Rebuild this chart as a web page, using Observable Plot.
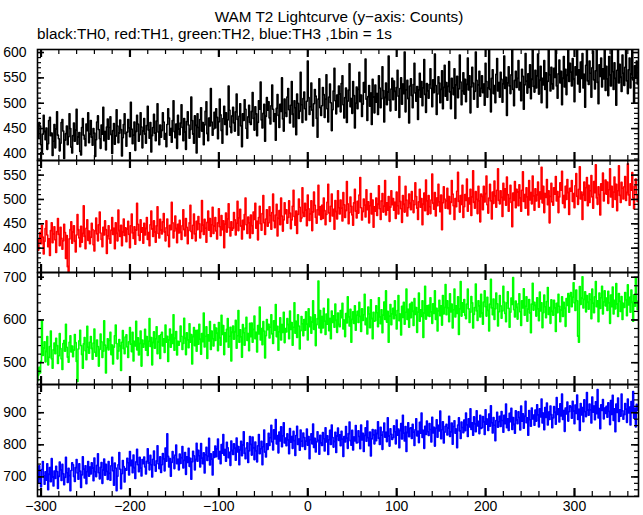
<!DOCTYPE html>
<html><head><meta charset="utf-8">
<script src="https://cdn.jsdelivr.net/npm/d3@7"></script>
<script src="https://cdn.jsdelivr.net/npm/@observablehq/plot@0.6"></script>
<style>
html,body{margin:0;padding:0;background:#fff;}
#chart{position:relative;width:643px;height:515px;font-family:"Liberation Sans",Arial,sans-serif;color:#000;overflow:hidden;}
.title{position:absolute;left:39px;width:600px;text-align:center;top:9px;font-size:15.3px;line-height:15px;white-space:nowrap;}
.sub{position:absolute;left:37px;top:26px;font-size:15.3px;line-height:15px;white-space:nowrap;}
</style></head>
<body>
<div id="chart">
<div class="title">WAM T2 Lightcurve (y−axis: Counts)</div>
<div class="sub">black:TH0, red:TH1, green:TH2, blue:TH3 ,1bin = 1s</div>
</div>
<script>
// time of first 1-s bin (s); one value per bin
const binStart = -304;

const th0 = [
447,431,462,455,418,403,439,476,444,428,451,409,420,466,472,436,441,397,425,458,
412,449,483,437,430,406,421,462,468,445,391,427,440,455,418,434,479,450,413,402,
436,461,425,447,488,419,433,442,405,398,452,470,437,429,416,459,446,481,422,439,
466,433,417,450,441,395,428,463,475,448,430,411,457,439,492,426,444,408,453,469,
429,452,473,438,401,446,460,419,435,487,455,422,441,467,448,396,432,458,479,440,
415,443,468,451,434,502,449,420,437,463,407,444,476,459,425,438,481,453,412,445,
470,439,421,456,494,447,431,462,404,436,452,478,441,426,465,499,443,418,457,433,
446,481,463,429,440,414,458,489,471,437,450,423,466,505,444,432,459,411,476,449,
438,461,497,452,426,470,443,409,464,483,457,431,448,512,466,439,421,475,456,402,
479,452,433,468,491,445,462,418,457,484,503,440,426,471,455,529,463,437,449,482,
451,489,472,430,463,508,477,446,421,470,494,458,481,438,467,534,486,453,442,475,
492,461,445,483,518,468,437,474,499,455,414,479,466,507,488,450,431,473,496,462,
458,484,521,470,447,493,479,436,462,505,488,542,467,451,480,498,425,474,511,486,
503,471,459,495,536,488,464,479,427,490,517,476,452,498,484,550,469,445,508,481,
474,512,529,487,461,496,543,478,453,505,491,438,518,500,470,484,561,497,462,509,
522,489,467,504,583,511,478,493,540,486,455,499,527,514,470,433,508,548,491,476,
495,531,517,472,508,556,489,463,512,538,501,446,487,524,569,505,479,516,493,534,
518,483,539,554,497,471,511,530,462,504,526,578,493,509,480,543,515,451,500,532,
489,527,561,503,516,474,498,541,522,587,508,466,513,535,494,520,458,547,512,481,
536,502,519,478,554,530,491,509,572,525,463,511,540,497,522,593,506,485,528,549,
507,544,523,486,531,565,514,472,529,550,498,538,519,601,483,526,545,509,461,534,
548,515,491,537,579,520,504,533,468,526,559,512,543,495,530,586,517,482,539,524,
510,537,568,529,493,546,521,597,535,478,518,552,540,501,527,564,489,531,575,514,
541,506,533,582,522,489,549,530,517,568,470,536,553,511,528,595,542,497,524,560,
518,547,503,537,589,526,554,481,532,571,540,508,523,601,545,492,536,563,514,529,
554,521,538,496,579,543,512,530,605,527,483,549,566,519,535,501,557,588,524,541,
512,561,547,502,538,593,529,551,476,540,572,534,519,556,608,527,495,545,563,531,
549,584,526,541,505,567,553,488,536,598,544,520,558,531,576,509,547,612,533,522,
565,530,554,597,518,545,573,501,549,536,584,527,560,491,543,609,556,524,571,538,
528,569,551,606,534,510,558,585,540,563,497,549,592,532,567,517,555,614,543,579,
561,534,588,547,503,572,556,615,538,566,522,581,549,598,530,557,492,575,609,544,
537,583,559,512,570,603,546,528,564,611,541,499,576,553,589,532,568,548,620,525,
573,548,515,592,556,534,607,562,527,580,549,496,565,613,540,577,551,523,595,559,
535,571,604,544,519,566,589,530,557,612,546,501,574,550,583,538
];

const th1 = [
401,396,418,432,409,447,423,388,414,440,456,427,403,419,385,436,452,411,429,444,
417,391,434,461,428,405,443,420,398,415,449,432,379,426,362,351,419,438,454,410,
433,446,414,392,427,469,438,421,403,445,412,430,487,424,399,441,458,416,435,409,
422,451,438,407,394,436,462,429,415,448,474,431,418,403,443,427,456,438,389,425,
446,419,410,437,463,428,441,399,452,430,415,478,436,424,447,405,433,460,426,442,
413,439,455,428,401,446,470,431,420,444,408,437,492,449,426,416,458,433,442,410,
451,427,440,463,418,432,405,448,476,439,424,456,433,412,446,485,430,421,459,437,
429,454,471,433,415,442,460,426,403,447,438,494,452,421,435,466,440,411,449,431,
457,432,418,446,479,438,425,461,443,409,436,452,488,434,420,447,470,429,415,455,
438,465,450,421,434,498,447,428,459,441,412,453,476,437,461,424,448,484,430,445,
463,435,419,452,481,444,426,467,438,456,401,449,472,433,460,491,442,425,454,437,
441,473,458,427,451,496,436,462,480,445,419,457,438,469,503,448,430,464,452,421,
468,446,430,474,459,492,441,455,417,463,486,450,437,471,508,452,428,460,479,445,
452,485,467,439,473,511,456,442,468,490,425,461,477,448,503,466,435,458,493,471,
479,451,463,497,472,440,458,486,519,465,447,476,430,469,501,484,455,462,524,473,
465,492,478,446,509,481,457,470,497,436,474,515,488,463,451,479,529,468,485,459,
488,461,503,477,448,469,494,531,472,455,486,511,466,480,439,498,475,460,518,483,
470,499,482,456,514,489,463,477,537,491,450,473,505,486,468,447,493,521,476,462,
496,472,509,545,483,458,475,501,488,464,520,479,495,452,487,512,470,499,443,485,
476,503,467,490,528,481,459,497,512,474,486,539,468,493,478,506,455,484,518,489,
502,478,494,461,515,487,470,547,496,481,453,508,490,474,527,499,466,483,511,492,
479,516,498,473,489,534,506,482,459,495,521,484,502,448,490,513,477,540,497,469,
508,485,471,499,552,492,480,514,466,503,487,531,495,475,509,438,493,526,501,482,
497,523,481,506,470,494,539,511,487,459,502,485,517,556,496,474,508,490,529,463,
485,510,498,542,476,503,491,521,467,505,559,494,482,516,500,471,527,497,454,511,
506,479,527,495,512,548,489,472,503,531,497,460,515,492,538,507,484,519,563,498,
491,518,504,465,533,499,522,488,546,510,476,502,529,494,444,513,498,537,483,521,
515,487,530,503,476,519,557,496,510,482,524,505,468,539,499,514,491,548,507,478,
522,497,509,536,484,515,501,566,493,527,473,512,504,541,489,518,452,506,533,495,
488,524,511,547,497,516,473,505,534,519,558,492,508,483,527,500,541,514,469,523,
517,539,496,512,483,528,553,506,490,521,567,501,515,459,509,536,498,524,545,487,
529,494,518,549,505,482,537,514,571,503,490,526,510,468,532,519,554,497,512,540,
511,536,492,520,563,505,527,484,515,546,500,531,477,518,569,508,494,535,523,501,
526,547,498,514,573,509,488,532,519,555,503,481,527,542,510,496
];

const th2 = [
458,471,489,476,503,598,517,534,549,502,526,561,495,512,538,574,509,487,530,546,
521,557,540,498,516,568,533,509,484,545,552,527,590,536,513,501,548,563,525,539,
514,529,566,547,503,456,532,551,576,540,519,487,544,559,528,507,585,536,522,548,
561,533,508,546,579,524,515,553,538,492,531,567,549,512,527,598,541,476,535,556,
530,552,571,519,541,497,536,563,588,545,509,527,554,539,482,548,575,533,521,560,
565,537,512,549,582,543,526,571,504,550,539,597,530,558,518,545,574,492,553,536,
544,578,529,561,517,550,603,538,559,495,547,572,534,556,584,521,548,563,510,566,
571,539,556,524,588,548,562,503,553,579,536,566,545,612,529,557,573,518,550,541,
549,586,562,531,545,604,557,519,570,553,535,591,548,566,497,561,582,540,575,527,
576,543,590,555,520,568,549,616,537,562,584,510,565,551,596,531,574,556,539,589,
552,581,569,528,594,558,541,611,566,587,519,570,549,578,603,536,562,583,504,571,
586,555,572,599,534,563,622,548,577,560,513,589,570,541,581,606,552,568,528,592,
561,593,548,578,609,556,571,525,587,567,630,553,580,542,596,574,511,563,601,577,
590,558,583,612,567,545,598,576,636,561,585,529,572,605,553,589,571,618,547,580,
572,603,589,556,621,578,594,541,583,640,569,597,559,612,586,532,575,608,591,563,
601,576,619,590,553,626,584,607,569,595,645,578,612,540,589,603,691,581,622,570,
608,581,627,597,566,614,590,649,575,603,556,621,594,610,583,637,599,571,616,589,
584,622,605,639,579,600,561,615,593,654,607,586,625,548,601,619,592,633,576,611,
620,594,641,608,573,626,599,612,660,589,604,567,630,614,582,647,603,556,618,597,
598,633,617,584,652,607,591,624,570,611,642,601,668,595,620,548,609,636,589,614,
627,603,645,611,579,622,657,598,614,565,632,606,641,590,618,672,601,625,583,637,
605,641,620,587,650,613,629,571,618,663,597,624,608,645,559,616,679,602,633,610,
634,608,652,619,592,638,615,668,601,627,574,621,646,610,633,588,657,614,629,683,
612,645,628,596,661,619,637,581,624,672,607,633,615,654,566,626,690,609,640,618,
648,611,603,637,672,626,594,618,655,640,581,613,629,684,621,599,645,633,607,660,
616,590,642,668,631,609,653,622,574,637,695,628,612,649,601,626,663,638,586,619,
657,633,604,621,679,642,615,596,640,666,627,583,618,651,636,699,624,607,644,629,
602,638,661,619,587,645,628,673,611,632,654,597,625,648,616,570,637,686,623,641,
634,609,652,626,598,665,621,640,582,617,658,631,605,643,676,613,629,592,647,620,
611,646,628,573,639,617,660,632,596,623,654,608,641,627,585,650,634,662,618,656,
664,631,653,687,640,622,670,645,562,548,678,636,651,701,628,648,666,619,657,641,
625,661,648,603,672,639,617,654,690,631,645,596,663,627,652,679,614,642,668,633,
651,622,667,640,592,658,631,677,614,646,626,685,637,608,662,643,620,655,601,639,
629,664,647,610,682,635,653,618,670,641,597,659,632,698,644,624
];

const th3 = [
712,681,735,694,669,723,748,703,677,716,690,741,660,708,729,685,757,699,672,718,
695,733,717,664,701,746,722,689,739,710,676,698,761,713,683,727,704,657,720,744,
738,701,686,729,754,712,693,741,718,667,706,763,724,697,735,679,716,748,702,731,
709,744,727,688,759,716,701,736,772,713,694,730,745,680,721,756,705,739,717,692,
748,711,690,735,761,719,674,743,728,657,702,738,776,724,663,710,751,732,684,726,
721,758,744,706,779,735,752,713,768,729,695,747,786,738,716,761,727,703,754,741,
762,731,709,749,788,743,722,767,738,700,755,781,736,718,750,797,741,726,763,714,
738,773,756,719,790,749,834,764,731,757,702,745,779,760,726,768,799,741,755,722,
771,742,760,795,728,751,776,708,763,745,789,733,758,693,747,780,766,722,754,805,
749,783,766,731,804,758,741,775,712,769,792,751,764,820,737,772,755,706,778,761,
796,763,787,818,756,779,741,801,774,832,768,785,749,808,791,760,777,736,812,782,
770,803,789,752,821,778,795,738,784,811,766,799,841,773,757,790,806,745,781,826,
801,768,824,790,754,809,781,747,797,832,772,788,811,738,794,846,777,762,803,786,
836,798,822,861,809,784,847,818,879,803,829,775,840,812,856,794,828,869,806,821,
797,834,815,772,851,808,826,789,842,813,767,829,858,801,818,783,846,811,795,837,
823,786,811,849,799,826,757,816,834,803,865,792,820,778,809,841,814,771,830,806,
798,838,819,781,853,809,828,770,816,845,801,862,823,793,810,839,776,827,852,814,
831,797,842,818,764,826,809,857,820,789,835,871,813,799,845,784,824,812,860,806,
807,844,826,788,862,815,836,779,829,853,811,874,822,797,840,765,818,848,831,803,
846,813,835,872,820,801,855,830,786,841,868,824,839,810,884,827,796,850,833,817,
822,859,841,803,877,830,849,791,844,866,818,892,836,812,857,779,838,869,825,851,
853,820,864,839,798,847,881,828,842,807,870,836,899,823,845,789,858,832,874,841,
829,866,848,809,886,837,855,796,851,878,824,861,843,905,819,847,872,806,839,858,
864,831,852,889,826,840,868,802,857,875,836,849,791,862,884,843,820,871,854,838,
877,844,899,862,826,881,856,912,848,869,830,887,865,841,906,859,873,835,892,851,
853,888,871,832,909,864,880,845,896,858,922,869,837,885,861,813,876,901,855,872,
889,857,904,876,839,892,866,927,853,881,845,898,872,914,848,885,863,836,906,877,
866,903,885,846,921,874,897,852,889,936,869,884,830,907,878,858,915,881,893,861,
908,874,925,893,856,912,887,943,868,899,847,916,885,930,862,902,879,921,894,853,
884,919,901,864,947,895,912,871,928,890,958,879,907,842,915,896,933,874,903,922,
917,883,936,905,866,924,898,955,879,911,845,929,893,916,872,940,903,888,963,908,
892,927,909,868,949,902,921,878,934,897,972,884,913,850,925,907,941,881,915,898,
920,886,931,904,863,938,895,954,876,912,841,927,901,946,873,909,889,958,906,880,
894,929,911,870,943,899,918,862,935,905,966,883,914,856,926,908
];

const xDomain = [-304, 372];
const xTickLabels = [-300, -200, -100, 0, 100, 200, 300];

const yDomains = [[387, 606], [350, 580], [449, 711], [639, 988]];
const yTickLabels = [[400, 450, 500, 550, 600], [400, 450, 500, 550], [500, 600, 700], [700, 800, 900]];
const yMinorSteps = [10, 10, 20, 20];
const seriesValues = [th0, th1, th2, th3];
const seriesColors = ["#000000", "#ff0000", "#00ff00", "#0000ff"];

// layout
const frameTops = [49, 160, 272, 384];
const frameHeights = [111, 112, 112, 112];
const W = 643, ML = 37, MR = 5;
const FW = W - ML - MR;

const xMinor = d3.range(-300, xDomain[1], 20);
const fmt = d => d < 0 ? "\u2212" + Math.abs(d) : String(d);

const chart = document.getElementById("chart");

seriesValues.forEach((vals, i) => {
  const fh = frameHeights[i];
  const last = i === 3;
  const data = vals.map((v, k) => ({t: binStart + k, v}));
  const st = yMinorSteps[i];
  const yd = yDomains[i];
  const yMinor = d3.range(Math.ceil(yd[0] / st) * st, yd[1], st);
  const marks = [
    Plot.lineY(data, {x: "t", y: "v", stroke: seriesColors[i], strokeWidth: 1.6, curve: "step", clip: true}),
    Plot.tickX(xMinor, {x: d => d, insetTop: fh - 5, strokeWidth: 1.2}),
    Plot.tickX(xMinor, {x: d => d, insetBottom: fh - 5, strokeWidth: 1.2}),
    Plot.tickX(xTickLabels, {x: d => d, insetTop: fh - 8, strokeWidth: 2.2}),
    Plot.tickX(xTickLabels, {x: d => d, insetBottom: fh - 8, strokeWidth: 2.2}),
    Plot.tickY(yMinor, {y: d => d, insetRight: FW - 4, strokeWidth: 1.2}),
    Plot.tickY(yMinor, {y: d => d, insetLeft: FW - 4, strokeWidth: 1.2}),
    Plot.tickY(yTickLabels[i], {y: d => d, insetRight: FW - 7, strokeWidth: 1.6}),
    Plot.tickY(yTickLabels[i], {y: d => d, insetLeft: FW - 7, strokeWidth: 1.6}),
    Plot.frame({stroke: "black", strokeWidth: 1.6}),
    Plot.axisY(yTickLabels[i], {tickSize: 0, tickPadding: 11, fontSize: 14, label: null})
  ];
  if (last) marks.push(Plot.axisX(xTickLabels, {tickSize: 0, tickPadding: 5, fontSize: 14, tickFormat: fmt, label: null}));
  const svg = Plot.plot({
    width: W,
    height: fh + (last ? 19 : 0),
    marginLeft: ML, marginRight: MR, marginTop: 0, marginBottom: last ? 19 : 0,
    x: {domain: xDomain, axis: null},
    y: {domain: yd, axis: null},
    style: {fontFamily: "'Liberation Sans', Arial, sans-serif", fontSize: "14px", color: "black", background: "none", overflow: "visible"},
    marks
  });
  svg.style.position = "absolute";
  svg.style.left = "0px";
  svg.style.top = frameTops[i] + "px";
  chart.appendChild(svg);
});
</script>
</body></html>
